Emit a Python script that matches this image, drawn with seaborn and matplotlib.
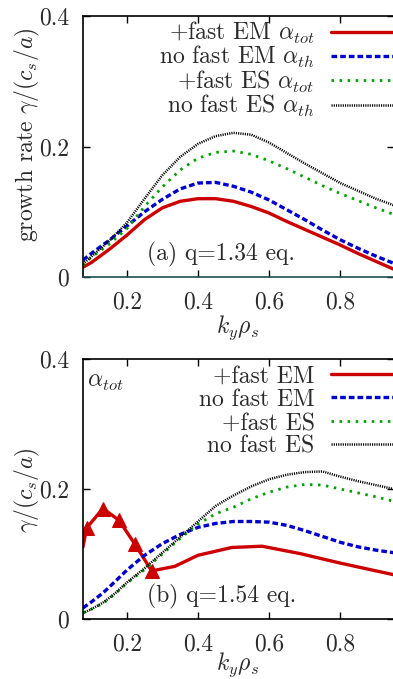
import numpy as np
import pandas as pd
import matplotlib
matplotlib.use("Agg")
import matplotlib.pyplot as plt
import seaborn as sns
from matplotlib.lines import Line2D
from matplotlib.ticker import FixedLocator, FixedFormatter

# ---------------- data ----------------
# panel (a) q=1.34
ky_a = [0.077, 0.1, 0.15, 0.2, 0.25, 0.3, 0.35, 0.4, 0.45, 0.5, 0.55, 0.6, 0.65, 0.7, 0.75, 0.8, 0.85, 0.9, 0.95]
em_tot_a = [0.015, 0.022, 0.042, 0.064, 0.088, 0.106, 0.116, 0.120, 0.120, 0.116, 0.108, 0.098, 0.085, 0.073, 0.061, 0.049, 0.036, 0.024, 0.012]
em_th_a = [0.026, 0.036, 0.056, 0.078, 0.100, 0.119, 0.135, 0.144, 0.145, 0.139, 0.130, 0.118, 0.103, 0.088, 0.072, 0.057, 0.044, 0.032, 0.021]
es_tot_a = [0.018, 0.030, 0.050, 0.074, 0.108, 0.138, 0.164, 0.182, 0.191, 0.193, 0.188, 0.178, 0.166, 0.153, 0.140, 0.128, 0.117, 0.106, 0.096]
es_th_a = [0.020, 0.031, 0.055, 0.083, 0.120, 0.156, 0.184, 0.204, 0.216, 0.221, 0.218, 0.206, 0.190, 0.174, 0.159, 0.144, 0.132, 0.120, 0.110]

# panel (b) q=1.54
ky_b_em = [0.077, 0.087, 0.133, 0.178, 0.223, 0.270, 0.335, 0.40, 0.495, 0.58, 0.688, 0.80, 0.951]
em_tot_b = [0.111, 0.140, 0.170, 0.152, 0.115, 0.074, 0.081, 0.098, 0.110, 0.112, 0.1005, 0.086, 0.068]
ky_b = [0.077, 0.1, 0.133, 0.166, 0.2, 0.25, 0.3, 0.35, 0.4, 0.45, 0.5, 0.55, 0.6, 0.65, 0.7, 0.75, 0.8, 0.85, 0.9, 0.95]
em_th_b = [0.017, 0.026, 0.040, 0.057, 0.075, 0.098, 0.116, 0.130, 0.141, 0.147, 0.150, 0.150, 0.149, 0.144, 0.136, 0.127, 0.118, 0.111, 0.106, 0.102]
es_tot_b = [0.0095, 0.015, 0.024, 0.038, 0.055, 0.076, 0.100, 0.124, 0.146, 0.162, 0.172, 0.185, 0.195, 0.203, 0.207, 0.206, 0.200, 0.194, 0.188, 0.181]
es_th_b = [0.009, 0.015, 0.025, 0.039, 0.056, 0.078, 0.102, 0.126, 0.150, 0.174, 0.190, 0.204, 0.215, 0.222, 0.226, 0.227, 0.219, 0.212, 0.206, 0.200]

x_ticks = [0.2, 0.4, 0.6, 0.8]
x_ticklabels = ["0.2", "0.4", "0.6", "0.8"]
y_ticks = [0.0, 0.2, 0.4]
y_ticklabels = ["0", "0.2", "0.4"]

labels_a = [r"+fast EM $\alpha_{tot}$", r"no fast EM $\alpha_{th}$",
            r"+fast ES $\alpha_{tot}$", r"no fast ES $\alpha_{th}$"]
labels_b = ["+fast EM", "no fast EM", "+fast ES", "no fast ES"]

# ---------------- style ----------------
sns.set_style("ticks")
plt.rcParams["font.family"] = ["cmr10", "DejaVu Serif"]
plt.rcParams["mathtext.fontset"] = "cm"
plt.rcParams["axes.formatter.use_mathtext"] = True
plt.rcParams["axes.unicode_minus"] = False

FS = 17
TXT = "#2a2a2a"
RED, BLUE, GREEN, BLACK = "#cc0000", "#0000cc", "#00a000", "#000000"
styles = [
    dict(color=RED, lw=2.4, ls="-"),
    dict(color=BLUE, lw=2.4, ls=(0, (1.7, 0.9))),
    dict(color=GREEN, lw=2.0, ls=(0, (0.9, 2.0))),
    dict(color=BLACK, lw=1.8, ls=(0, (0.45, 0.45))),
]

fig = plt.figure(figsize=(3.93, 6.79), dpi=100)
W, H = 393.0, 679.0
ax_a = fig.add_axes([83 / W, 1 - 277 / H, (394 - 83) / W, 261 / H])
ax_b = fig.add_axes([83 / W, 1 - 619 / H, (394 - 83) / W, 260 / H])


def draw(ax, xs, ys, extra=None):
    for i, (x, y) in enumerate(zip(xs, ys)):
        st = styles[i]
        kw = {}
        if extra and i in extra:
            kw = extra[i]
        sns.lineplot(x=x, y=y, ax=ax, color=st["color"], lw=st["lw"],
                     linestyle=st["ls"], legend=False, sort=False, **kw)
        ax.lines[-1].set_linestyle(st["ls"])


draw(ax_a, [ky_a] * 4, [em_tot_a, em_th_a, es_tot_a, es_th_a])
draw(ax_b, [ky_b_em, ky_b, ky_b, ky_b], [em_tot_b, em_th_b, es_tot_b, es_th_b],
     extra={0: dict(marker="^", markersize=9.5, markevery=[1, 2, 3, 4, 5],
                    markeredgecolor=RED, markerfacecolor=RED)})

for ax in (ax_a, ax_b):
    ax.set_xlim(0.077, 0.951)
    ax.set_ylim(0, 0.4)
    ax.xaxis.set_major_locator(FixedLocator(x_ticks))
    ax.xaxis.set_major_formatter(FixedFormatter(x_ticklabels))
    ax.yaxis.set_major_locator(FixedLocator(y_ticks))
    ax.yaxis.set_major_formatter(FixedFormatter(y_ticklabels))
    ax.tick_params(direction="in", length=5, width=1.0, top=True, right=True,
                   labelsize=FS, colors="black", labelcolor=TXT, pad=10)
    ax.tick_params(axis="y", pad=10)
    for sp in ax.spines.values():
        sp.set_linewidth(1.2)
        sp.set_color("black")
    ax.set_xlabel("")
    ax.set_ylabel("")
    ax.set_facecolor("white")

ax_a.spines["bottom"].set_color("#1d4f4f")

# legends
for ax, labels, top_px, spacing in ((ax_a, labels_a, 20, -0.07), (ax_b, labels_b, 365, 0.06)):
    handles = [Line2D([0], [0], color=s["color"], lw=s["lw"], ls=s["ls"]) for s in styles]
    leg = ax.legend(handles, labels, loc="upper right",
                    bbox_to_anchor=(402 / W, 1 - top_px / H),
                    bbox_transform=fig.transFigure, frameon=False,
                    markerfirst=False, fontsize=FS, handlelength=3.0,
                    handletextpad=0.7, labelspacing=spacing, borderpad=0,
                    borderaxespad=0)
    for t in leg.get_texts():
        t.set_color(TXT)

ax_a.text(0.206, 0.088, "(a) q=1.34 eq.", transform=ax_a.transAxes,
          fontsize=FS, color=TXT, va="center", ha="left")
ax_b.text(0.206, 0.088, "(b) q=1.54 eq.", transform=ax_b.transAxes,
          fontsize=FS, color=TXT, va="center", ha="left")
ax_b.text(0.013, 0.912, r"$\alpha_{tot}$", transform=ax_b.transAxes,
          fontsize=FS, color=TXT, va="center", ha="left")

fig.text(27 / W, 1 - 135 / H, r"growth rate $\gamma/(c_s/a)$", rotation=90,
         fontsize=FS, color=TXT, ha="center", va="center")
fig.text(27 / W, 1 - 490 / H, r"$\gamma/(c_s/a)$", rotation=90,
         fontsize=FS, color=TXT, ha="center", va="center")
fig.text(238 / W, 1 - 328 / H, r"$k_y\rho_s$", fontsize=FS, color=TXT,
         ha="center", va="center")
fig.text(238 / W, 1 - 665 / H, r"$k_y\rho_s$", fontsize=FS, color=TXT,
         ha="center", va="center")

fig.savefig("out.png", dpi=100, facecolor="white")
